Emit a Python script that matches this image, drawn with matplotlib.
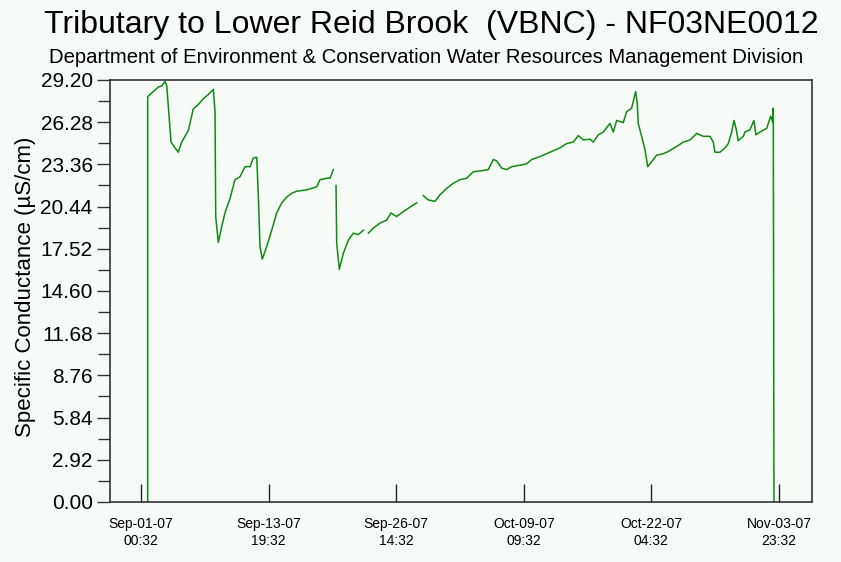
import matplotlib
matplotlib.use("Agg")
import matplotlib.pyplot as plt
import numpy as np
import pandas as pd

start = pd.Timestamp("2007-09-01 00:32")

# days since Sep-01-07 00:32 and specific conductance (uS/cm); nan = logger gap
days = [0.67, 0.67, 1.23, 1.73, 2.10, 2.41, 2.58, 2.74, 3.01, 3.41, 3.74, 4.08,
        4.74, 5.24, 5.74, 6.25, 6.75, 7.25, 7.42, 7.49, 7.75, 8.09, 8.42, 8.92,
        9.42, 9.92, 10.43, 10.93, 11.26, 11.60, 11.76, 11.93, 12.16, 12.60, 13.10,
        13.60, 14.11, 14.61, 15.11, 15.61, 16.61, 17.61, 17.94, 18.62, 18.95, 19.28,
        19.40,
        19.55, 19.62, 19.88, 20.28, 20.78, 21.28, 21.78, 22.29,
        22.50,
        22.79, 23.29, 23.96, 24.63, 25.06, 25.63, 26.30, 26.97, 27.64,
        28.00,
        28.30, 28.80, 29.47, 29.97, 30.65, 31.31, 31.98, 32.65, 33.31, 33.98, 34.82,
        35.32, 35.66, 36.16, 36.66, 37.16, 37.99, 38.67, 39.17, 40.00, 41.00, 42.00,
        42.68, 43.34, 43.84, 44.34, 45.01, 45.34, 45.84, 46.35, 47.02, 47.35, 47.69,
        48.35, 48.69, 49.19, 49.59, 49.75, 49.85, 50.19, 50.53, 50.80, 51.20, 51.70,
        52.36, 52.86, 53.70, 54.37, 55.04, 55.71, 56.37, 57.04, 57.37, 57.54, 58.04,
        58.55, 58.88, 59.22, 59.45, 59.65, 59.88, 60.38, 60.55, 61.05, 61.45, 61.65,
        62.05, 62.73, 63.13, 63.33, 63.39, 63.46]
cond = [0.00, 28.05, 28.40, 28.70, 28.80, 29.10, 28.80, 27.35, 24.90, 24.50, 24.20, 24.90,
        25.70, 27.20, 27.50, 27.90, 28.20, 28.55, 27.00, 19.75, 17.95, 19.05, 20.00, 21.00,
        22.30, 22.50, 23.20, 23.20, 23.80, 23.85, 21.25, 17.67, 16.80, 17.67, 18.80,
        20.00, 20.70, 21.10, 21.36, 21.50, 21.60, 21.80, 22.30, 22.40, 22.40, 23.00,
        np.nan,
        21.90, 17.90, 16.10, 17.20, 18.10, 18.60, 18.50, 18.80,
        np.nan,
        18.60, 18.95, 19.30, 19.50, 20.00, 19.75, 20.10, 20.40, 20.70,
        np.nan,
        21.20, 20.90, 20.80, 21.25, 21.70, 22.05, 22.30, 22.40, 22.85, 22.90, 23.00,
        23.70, 23.60, 23.10, 23.00, 23.20, 23.30, 23.40, 23.70, 23.90, 24.20, 24.50,
        24.80, 24.90, 25.35, 25.05, 25.10, 24.90, 25.40, 25.60, 26.20, 25.60, 26.40,
        26.25, 27.00, 27.25, 28.40, 27.60, 26.20, 25.30, 24.36, 23.20, 23.55, 24.00,
        24.10, 24.25, 24.60, 24.90, 25.05, 25.50, 25.30, 25.30, 24.90, 24.20, 24.20,
        24.50, 24.80, 25.60, 26.40, 25.85, 25.00, 25.30, 25.60, 25.75, 26.40, 25.40,
        25.60, 25.85, 26.70, 26.30, 27.25, 0.00]

y_labels = ["0.00", "2.92", "5.84", "8.76", "11.68", "14.60", "17.52", "20.44",
            "23.36", "26.28", "29.20"]
tick_step_hours = 307

bg = "#f6fbf8"
font = "Liberation Sans"
times = start + pd.to_timedelta(days, unit="D")

fig = plt.figure(figsize=(8.41, 5.62), dpi=100, facecolor=bg)
ax = fig.add_axes([0.1308, 0.1068, 0.8347, 0.7509], facecolor=bg)

ax.plot(times, cond, color="#118a11", lw=1.1)

ax.set_ylim(0, 29.2)
ax.set_xlim(start - pd.Timedelta(days=3.11), start + pd.Timedelta(days=67.27))

# y axis: labelled majors every 2.92, unlabelled minors in between
ax.set_yticks([float(v) for v in y_labels])
ax.set_yticklabels(y_labels, fontsize=15, family=font)
ax.set_yticks(np.arange(1.46, 29.2, 2.92), minor=True)
ax.tick_params(axis="y", which="major", direction="out", length=9.5, width=1,
               color="#333333", pad=3)
ax.tick_params(axis="y", which="minor", direction="out", length=8.5, width=1,
               color="#333333")

xt = pd.date_range(start, periods=6, freq=f"{tick_step_hours}h")
ax.set_xticks(xt)
ax.set_xticklabels([t.strftime("%b-%d-%y\n%H:%M") for t in xt], fontsize=10,
                   family=font, linespacing=1.25)
ax.tick_params(axis="x", direction="in", length=13, width=1, color="#222222", pad=11)

for s in ax.spines.values():
    s.set_color("#333333")
    s.set_linewidth(1.2)

ax.set_ylabel("Specific Conductance (µS/cm)", fontsize=16, family=font)
ax.yaxis.set_label_coords(-0.105, 0.51)

fig.text(0.5126, 1 - 33 / 562, "Tributary to Lower Reid Brook  (VBNC) - NF03NE0012",
         ha="center", va="baseline", fontsize=23, family=font)
fig.text(0.5065, 1 - 63 / 562,
         "Department of Environment & Conservation Water Resources Management Division",
         ha="center", va="baseline", fontsize=14.6, family=font)

fig.savefig("out.png", dpi=100, facecolor=bg)
